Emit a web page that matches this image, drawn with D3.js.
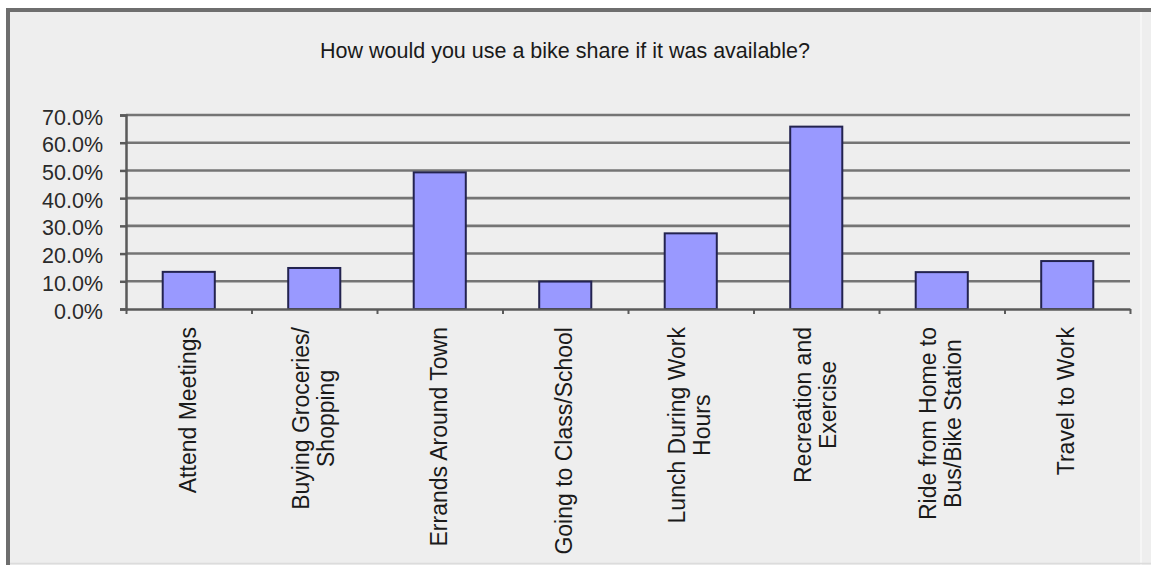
<!DOCTYPE html>
<html>
<head>
<meta charset="utf-8">
<script src="https://cdn.jsdelivr.net/npm/d3@7"></script>
<style>
  html, body { margin: 0; padding: 0; background: #fff; }
  svg { display: block; font-family: "Liberation Sans", Arial, sans-serif; }
</style>
</head>
<body>
<div id="chart"></div>
<script>
// categories (line breaks as in the original wrapped labels)
const categories = [
  "Attend Meetings",
  "Buying Groceries/\nShopping",
  "Errands Around Town",
  "Going to Class/School",
  "Lunch During Work\nHours",
  "Recreation and\nExercise",
  "Ride from Home to\nBus/Bike Station",
  "Travel to Work"
];
// share of respondents
const shares = [0.134, 0.148, 0.493, 0.099, 0.273, 0.658, 0.133, 0.173];
const yTicks = [0, 0.1, 0.2, 0.3, 0.4, 0.5, 0.6, 0.7];
const title = "How would you use a bike share if it was available?";

const W = 1151, H = 565;
const plot = { left: 126, right: 1130, top: 115, bottom: 309 };

const svg = d3.select('#chart').append('svg')
  .attr('width', W)
  .attr('height', H);

// panel background + frame (dark on top/left only)
svg.append('rect')
  .attr('x', 8).attr('y', 10)
  .attr('width', W - 8).attr('height', H - 10)
  .attr('fill', '#eeeeee');
svg.append('line')
  .attr('x1', 1141).attr('x2', 1141).attr('y1', 12).attr('y2', H)
  .attr('stroke', '#f8f8f8').attr('stroke-width', 1.5);
svg.append('line')
  .attr('x1', 8).attr('x2', W).attr('y1', 563.5).attr('y2', 563.5)
  .attr('stroke', '#dcdcdc').attr('stroke-width', 1.5);
svg.append('path')
  .attr('d', `M8,${H} V10 H${W}`)
  .attr('fill', 'none')
  .attr('stroke', '#6e6e6e')
  .attr('stroke-width', 4);

svg.append('text')
  .attr('x', 565)
  .attr('y', 58)
  .attr('text-anchor', 'middle')
  .style('font-size', '21.5px')
  .style('fill', '#1a1a1a')
  .text(title);

const x = d3.scaleBand()
  .domain(categories)
  .range([plot.left, plot.right])
  .paddingInner(0.585)
  .paddingOuter(0.2925);

const xIdx = d3.scaleLinear()
  .domain([0, categories.length])
  .range([plot.left, plot.right]);

const y = d3.scaleLinear()
  .domain([0, 0.7])
  .range([plot.bottom, plot.top]);

// gridlines
svg.append('g')
  .selectAll('line')
  .data(yTicks.filter(d => d > 0))
  .join('line')
  .attr('x1', plot.left)
  .attr('x2', plot.right)
  .attr('y1', d => y(d))
  .attr('y2', d => y(d))
  .attr('stroke', '#747474')
  .attr('stroke-width', 2.6);

// bars
svg.append('g')
  .selectAll('rect')
  .data(shares)
  .join('rect')
  .attr('x', (d, i) => x(categories[i]))
  .attr('y', d => y(d))
  .attr('width', x.bandwidth())
  .attr('height', d => y(0) - y(d))
  .attr('fill', '#9999ff')
  .attr('stroke', '#23234f')
  .attr('stroke-width', 2);

// y axis
const yAxis = svg.append('g')
  .attr('transform', `translate(${plot.left},0)`)
  .call(d3.axisLeft(y)
    .tickValues(yTicks)
    .tickFormat(d3.format('.1%'))
    .tickSize(6)
    .tickPadding(17));
yAxis.select('.domain').attr('stroke', '#5a5a5a').attr('stroke-width', 2.5);
yAxis.selectAll('.tick line').attr('stroke', '#5a5a5a').attr('stroke-width', 2.5);
yAxis.selectAll('.tick text')
  .attr('dy', '0.42em')
  .style('font-size', '21.5px')
  .style('font-family', '"Liberation Sans", Arial, sans-serif')
  .style('fill', '#2a2a2a');

// x axis (ticks between categories)
const xAxis = svg.append('g')
  .attr('transform', `translate(0,${plot.bottom})`)
  .call(d3.axisBottom(xIdx)
    .tickValues(d3.range(categories.length + 1))
    .tickFormat('')
    .tickSize(5)
    .tickSizeOuter(0));
xAxis.select('.domain').attr('stroke', '#5a5a5a').attr('stroke-width', 2.5);
xAxis.selectAll('.tick line').attr('stroke', '#5a5a5a').attr('stroke-width', 2);

// rotated category labels
const labelTop = plot.bottom + 18;
const lineStep = 25;
const labels = svg.append('g')
  .style('font-size', '23px')
  .style('fill', '#1a1a1a');

categories.forEach(cat => {
  const lines = cat.split('\n');
  const cx = x(cat) + x.bandwidth() / 2;
  const g = labels.append('g');
  const texts = lines.map((ln, k) => g.append('text')
    .attr('text-anchor', 'middle')
    .attr('y', 7 + (k - (lines.length - 1) / 2) * lineStep)
    .text(ln));
  const maxW = d3.max(texts, t => t.node().getComputedTextLength());
  texts.forEach(t => t.attr('x', -maxW / 2));
  g.attr('transform', `translate(${cx},${labelTop}) rotate(-90)`);
});
</script>
</body>
</html>
